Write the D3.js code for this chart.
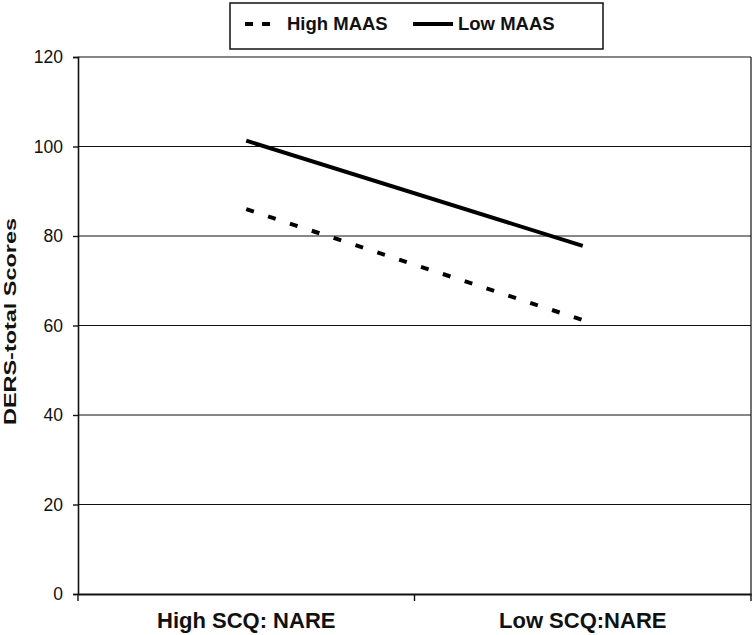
<!DOCTYPE html>
<html>
<head>
<meta charset="utf-8">
<script src="https://cdn.jsdelivr.net/npm/d3@7"></script>
<style>
  html, body { margin: 0; padding: 0; background: #fff; }
  svg { display: block; font-family: "Liberation Sans", Arial, sans-serif; }
</style>
</head>
<body>
<svg id="chart" width="755" height="635"></svg>
<script>
const categories = ["High SCQ: NARE", "Low SCQ:NARE"];
const highMAAS = [86.0, 61.2];
const lowMAAS = [101.3, 77.8];
const yTicks = [0, 20, 40, 60, 80, 100, 120];
const seriesNames = ["High MAAS", "Low MAAS"];

const svg = d3.select("#chart");
const L = 78, R = 751, T = 57, B = 594;

const x = d3.scalePoint().domain(categories).range([L, R]).padding(0.5);
const xBand = d3.scaleBand().domain(categories).range([L, R]);
const y = d3.scaleLinear().domain([0, 120]).range([B, T]);

// gridlines
svg.append("g").selectAll("line").data(yTicks.filter(d => d > 0)).join("line")
  .attr("x1", L).attr("x2", R)
  .attr("y1", d => y(d)).attr("y2", d => y(d))
  .attr("stroke", "#111").attr("stroke-width", 1.2);

// right border
svg.append("line").attr("x1", R).attr("x2", R).attr("y1", T).attr("y2", B)
  .attr("stroke", "#111").attr("stroke-width", 1.2);

// y axis
const yAxis = svg.append("g").attr("transform", `translate(${L},0)`)
  .call(d3.axisLeft(y).tickValues(yTicks).tickSize(5).tickPadding(10).tickFormat(d3.format("d")));
yAxis.select(".domain").attr("stroke", "#111").attr("stroke-width", 1.6);
yAxis.selectAll(".tick line").attr("stroke", "#111").attr("stroke-width", 1.4);
yAxis.selectAll(".tick text").attr("font-size", 17.5).attr("fill", "#111")
  .attr("font-family", "'Liberation Sans', Arial, sans-serif");

// x axis
const xAxis = svg.append("g").attr("transform", `translate(0,${B})`)
  .call(d3.axisBottom(xBand).tickSize(0).tickFormat(""));
xAxis.select(".domain").attr("stroke", "#111").attr("stroke-width", 1.8);
xAxis.selectAll(".tick").remove();
const xTickPos = [L, (L + R) / 2, R];
xAxis.selectAll("line.xt").data(xTickPos).join("line").attr("class", "xt")
  .attr("x1", d => d).attr("x2", d => d).attr("y1", 0).attr("y2", 7)
  .attr("stroke", "#111").attr("stroke-width", 1.4);
svg.append("g").selectAll("text").data(categories).join("text")
  .attr("x", d => x(d)).attr("y", 628)
  .attr("text-anchor", "middle").attr("font-size", 22).attr("font-weight", "bold")
  .attr("fill", "#111").text(d => d);

// y title
svg.append("text")
  .attr("transform", `translate(16,${321.5}) rotate(-90)`)
  .attr("text-anchor", "middle").attr("font-size", 17).attr("font-weight", "bold")
  .attr("textLength", 207).attr("lengthAdjust", "spacingAndGlyphs")
  .attr("fill", "#111").text("DERS-total Scores");

// lines
const line = d3.line().x((d, i) => x(categories[i])).y(d => y(d));
svg.append("path").datum(highMAAS).attr("d", line)
  .attr("fill", "none").attr("stroke", "#000").attr("stroke-width", 4)
  .attr("stroke-dasharray", "8,15");
svg.append("path").datum(lowMAAS).attr("d", line)
  .attr("fill", "none").attr("stroke", "#000").attr("stroke-width", 4);

// legend
const lg = svg.append("g");
lg.append("rect").attr("x", 230).attr("y", 3).attr("width", 373).attr("height", 46)
  .attr("fill", "#fff").attr("stroke", "#111").attr("stroke-width", 1.5);
lg.append("line").attr("x1", 245).attr("x2", 271).attr("y1", 24).attr("y2", 24)
  .attr("stroke", "#000").attr("stroke-width", 4).attr("stroke-dasharray", "8,9");
lg.append("text").attr("x", 287).attr("y", 30).attr("font-size", 18.5).attr("font-weight", "bold")
  .attr("fill", "#111").text(seriesNames[0]);
lg.append("line").attr("x1", 413).attr("x2", 453).attr("y1", 24).attr("y2", 24)
  .attr("stroke", "#000").attr("stroke-width", 4);
lg.append("text").attr("x", 458).attr("y", 30).attr("font-size", 18.5).attr("font-weight", "bold")
  .attr("fill", "#111").text(seriesNames[1]);
</script>
</body>
</html>
